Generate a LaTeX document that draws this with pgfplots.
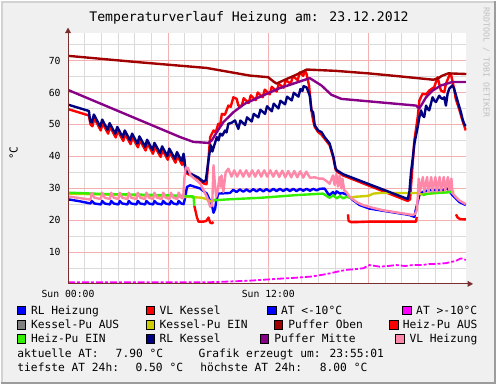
\documentclass[border=0pt]{standalone}
\usepackage{pgfplots}
\pgfplotsset{compat=1.18}
\usepackage{fontspec}
\setmainfont{DejaVu Sans Mono}
\definecolor{bgc}{HTML}{F0F0F0}
\definecolor{brdlight}{HTML}{D2D2D2}
\definecolor{brddark}{HTML}{9C9C9C}
\definecolor{majg}{HTML}{F4B0B0}
\definecolor{ming}{HTML}{DADADA}
\definecolor{axc}{HTML}{7A2E2E}
\definecolor{cblue}{HTML}{0000FF}
\definecolor{cred}{HTML}{FF0000}
\definecolor{cmag}{HTML}{FF00FF}
\definecolor{cgray}{HTML}{808080}
\definecolor{cyel}{HTML}{CCCC00}
\definecolor{cdred}{HTML}{A00000}
\definecolor{cgreen}{HTML}{33F000}
\definecolor{cnavy}{HTML}{000080}
\definecolor{cpurp}{HTML}{880088}
\definecolor{cpink}{HTML}{FF88A8}
\definecolor{wmk}{HTML}{C0C0C0}
\newcommand{\fs}[1]{\fontsize{#1bp}{#1bp}\selectfont}
\begin{document}
\begin{tikzpicture}[x=1bp,y=1bp]
\fill[bgc] (0,0) rectangle (497,385);
\draw[brdlight, line width=2bp] (1,0) -- (1,384) -- (497,384);
\draw[brddark, line width=2bp] (0,1) -- (496,1) -- (496,385);
\begin{axis}[
  at={(67.3bp,101bp)}, anchor=south west, scale only axis,
  width=400bp, height=252bp,
  xmin=0, xmax=23.88, ymin=0, ymax=78.7,
  axis background/.style={fill=white},
  axis line style={draw=none},
  xtick={0,6,12,18}, xticklabels={Sun 00:00,,Sun 12:00,},
  minor xtick={1,2,3,4,5,7,8,9,10,11,13,14,15,16,17,19,20,21,22,23},
  ytick={10,20,30,40,50,60,70},
  minor ytick={5,15,25,35,45,55,65,75},
  grid=both,
  major grid style={color=majg, line width=0.8bp},
  minor grid style={color=ming, line width=0.8bp},
  major tick length=0pt, minor tick length=0pt,
  /pgf/number format/assume math mode=true,
  yticklabel style={font=\fs{9.8}, anchor=east, inner sep=0pt, xshift=-7.3bp},
  xticklabel style={font=\fs{9.8}, anchor=north, inner sep=0pt, yshift=-6bp},
  every axis plot/.append style={line width=2.4bp, line join=round, mark=none},
]
% RL Heizung
\addplot[cblue] coordinates {(0,26.5) (0.7,25.9) (1.35,25.2) (1.42,26.0) (1.58,25.2)
 (1.97,24.9) (2.05,26.0) (2.2,25.2) (2.51,24.9) (2.59,26.0) (2.74,25.2)
 (3.02,24.9) (3.1,26.0) (3.25,25.2) (3.56,24.9) (3.64,26.0) (3.79,25.2)
 (4.1,24.9) (4.18,26.0) (4.33,25.2) (4.62,24.9) (4.7,26.0) (4.85,25.2)
 (5.1,24.9) (5.18,26.0) (5.33,25.2) (5.62,24.9) (5.7,26.0) (5.85,25.2)
 (6.09,24.9) (6.17,26.0) (6.32,25.2) (6.55,24.9) (6.63,26.0) (6.78,25.2)
 (6.93,25.0) (7.03,27.3) (7.13,30.4) (7.32,30.9) (7.92,29.9) (8.32,28.3) (8.62,24.7)
 (8.72,22.3) (8.82,23.6) (8.88,26.0) (9.01,28.3) (9.71,28.5)
 (9.9,29.5) (10.1,28.8) (10.3,29.6) (10.5,28.9) (10.7,29.6) (10.9,28.9) (11.1,29.7)
 (11.3,29.0) (11.5,29.7) (11.7,29.0) (11.9,29.7) (12.1,29.0) (12.3,29.8) (12.5,29.1)
 (12.7,29.8) (12.9,29.1) (13.1,29.8) (13.3,29.1) (13.5,29.8) (13.7,29.1) (13.9,29.8)
 (14.1,29.2) (14.3,29.8) (14.5,29.2) (14.7,29.8) (14.9,29.3) (15.1,29.8) (15.38,29.9)
 (15.58,28.3) (15.68,27.8) (15.88,28.8) (16.0,28.0) (16.1,29.0) (16.3,28.3) (16.45,28.5)
 (16.78,27.8) (17.08,26.25) (17.48,24.7) (18.07,23.6) (19.27,22.6) (20.46,21.6)
 (20.76,21.0) (20.86,23.6) (20.96,25.7) (21.06,27.8) (21.25,28.8) (21.65,29.4)
 (22.45,29.4) (22.75,29.9) (23.04,27.8) (23.44,25.7) (23.84,24.7)};
% VL Kessel
\addplot[cred] coordinates {(0,54.8) (1.25,52.8) (1.35,50.0) (1.46,49.4) (1.58,51.9)
 (1.96,48.1) (2.08,50.3) (2.4,47.1) (2.52,49.2) (2.86,45.9) (2.98,48.0)
 (3.31,44.8) (3.43,46.9) (3.75,43.8) (3.87,45.9) (4.19,42.8) (4.31,45.0)
 (4.65,41.8) (4.77,44.0) (5.09,40.8) (5.21,43.0) (5.55,39.8) (5.67,41.9)
 (5.98,38.9) (6.10,41.2) (6.44,38.0) (6.56,40.1) (6.84,37.3) (6.96,39.5)
 (7.05,35.0) (7.15,34.5) (7.82,33.0) (8.12,31.5) (8.3,31.2) (8.42,39.3) (8.52,46.0)
 (8.72,48.1) (8.85,47.5) (9.01,50.2) (9.12,49.8) (9.22,53.3) (9.4,53.0) (9.61,55.9)
 (9.75,55.5) (9.91,58.5) (10.11,58.0) (10.21,55.9) (10.41,55.8) (10.53,58.2)
 (10.83,56.7) (10.95,59.1) (11.25,57.6) (11.37,60.0) (11.67,58.5) (11.79,60.9)
 (12.09,59.4) (12.21,61.8) (12.51,60.3) (12.63,62.7) (12.93,61.5) (13.05,63.9)
 (13.35,62.7) (13.47,65.1) (13.77,63.9) (13.89,66.3) (14.1,65.2) (14.2,66.8)
 (14.3,65.8) (14.45,62.0) (14.59,54.4) (14.7,51.0) (14.79,49.2) (14.99,47.6)
 (15.19,46.8) (15.38,45.5) (15.68,43.5) (15.9,39.5) (16.04,35.8) (16.12,35.2)
 (16.48,34.0) (20.36,26.0) (20.5,26.5) (20.62,35.0) (20.76,45.0) (20.96,52.3)
 (21.06,57.5) (21.25,59.6) (21.46,59.4) (21.65,60.6) (21.95,61.7) (22.15,64.8)
 (22.25,62.7) (22.35,60.6) (22.55,60.1) (22.65,62.7) (22.85,65.3) (22.95,65.8)
 (23.14,61.2) (23.24,58.0) (23.44,54.9) (23.64,51.25) (23.84,48.1)};
% AT >-10
\addplot[cmag, line width=1.8bp, dash pattern=on 7bp off 2bp on 3bp off 2bp] coordinates {
 (0,0.5) (4,0.5) (8.4,0.5) (9.0,0.6) (10.9,1.0) (11.6,1.25) (12.6,1.6) (13.6,1.9)
 (14.6,2.3) (15.2,2.8) (15.7,3.3) (16.2,3.9) (16.7,4.4) (17.2,4.6) (17.7,4.9)
 (18.07,5.9) (18.67,5.4) (19.2,5.6) (19.67,5.9) (20.2,5.6) (20.66,5.9) (21.2,5.9)
 (21.65,6.2) (22.2,6.3) (22.65,6.5) (23.25,7.2) (23.55,8.0) (23.84,7.5)};
% Kessel-Pu EIN
\addplot[cyel] coordinates {(0,28.3) (3,27.9) (6,27.5) (7.0,27.3) (7.5,27.2) (8.0,27.0)
 (8.3,26.6) (8.5,26.0) (8.62,25.7) (8.75,26.3) (8.9,26.5)};
\addplot[cyel] coordinates {(16.9,27.0) (17.2,27.3) (18.0,27.6) (18.3,28.3) (18.7,28.5)
 (20.9,28.5) (21.2,28.0) (21.5,28.2) (22.5,28.7) (23.15,29.0)};
% Puffer Oben
\addplot[cdred] coordinates {(0,71.5) (4,69.6) (8.3,67.7) (10.9,65.3) (12,64.8) (12.3,63.5)
 (12.5,62.8) (13.0,64.0) (13.7,65.6) (14.3,67.2) (16,66.8) (18,66.0) (20,65.0)
 (21.9,64.0) (22.2,64.5) (22.4,65.2) (22.8,66.0) (23.87,65.8)};
% Heiz-Pu AUS
\addplot[cred] coordinates {(7.57,24.5) (7.72,21.0) (7.82,19.5) (8.1,19.5) (8.28,19.7)
 (8.42,20.8) (8.52,19.2) (8.62,19.0) (8.72,19.4)};
\addplot[cred] coordinates {(16.78,21.8) (16.82,19.7) (17.0,19.3) (18.0,19.5) (20.0,19.5)
 (20.86,19.5) (20.9,21.0)};
\addplot[cred] coordinates {(23.25,21.8) (23.35,20.8) (23.5,20.3) (23.84,20.2)};
% Heiz-Pu EIN
\addplot[cgreen] coordinates {(0,28.6) (2,28.2) (4,28.0) (6,27.8) (7.52,27.4) (7.57,24.5)};
\addplot[cgreen] coordinates {(8.72,26.2) (9.61,26.5) (11.6,27.0) (13.6,27.8) (15.28,28.3)
 (15.58,27.3) (15.68,27.0) (15.9,27.8) (16.1,26.8) (16.3,27.5) (16.5,26.8) (16.7,27.3)
 (16.88,27.0)};
\addplot[cgreen] coordinates {(21.25,27.8) (21.5,28.2) (22.0,28.5) (22.5,28.6) (23.0,28.8)
 (23.1,28.3)};
% RL Kessel
\addplot[cnavy] coordinates {(0,56.2) (1.25,54.2) (1.33,51.0) (1.43,50.6) (1.55,53.1)
 (1.93,49.3) (2.05,51.5) (2.37,48.3) (2.49,50.4) (2.83,47.1) (2.95,49.2)
 (3.28,46.0) (3.4,48.1) (3.72,45.0) (3.84,47.1) (4.16,44.0) (4.28,46.25)
 (4.62,43.0) (4.74,45.2) (5.06,42.0) (5.18,44.2) (5.52,41.0) (5.64,43.1)
 (5.95,40.1) (6.07,42.4) (6.41,39.2) (6.53,41.3) (6.81,38.5) (6.93,40.8)
 (7.03,36.2) (7.13,35.1) (7.82,33.3) (8.12,32.0) (8.26,32.5) (8.42,38.8) (8.55,43.5)
 (8.65,41.5) (8.8,44.0) (8.92,46.0) (9.02,45.0) (9.12,47.1) (9.25,46.5) (9.41,48.1)
 (9.5,47.5) (9.61,50.2) (9.8,50.5) (10.01,51.25) (10.1,50.0) (10.21,48.6)
 (10.33,51.2) (10.61,49.8) (10.73,52.2) (11.01,50.9) (11.13,53.3) (11.41,52.2)
 (11.53,54.6) (11.81,53.3) (11.93,55.7) (12.21,54.1) (12.33,56.5) (12.61,55.0)
 (12.73,57.4) (13.01,56.3) (13.13,58.7) (13.41,57.5) (13.53,59.9) (13.81,58.7)
 (13.93,61.1) (14.05,60.5) (14.12,62.0) (14.3,61.6) (14.49,59.0) (14.59,54.4)
 (14.69,53.8) (14.79,49.7) (14.99,48.1) (15.19,47.6) (15.38,46.0) (15.68,44.0)
 (15.9,40.0) (16.04,36.2) (16.12,35.6) (16.48,34.4) (20.36,26.6) (20.46,28.8)
 (20.56,35.1) (20.66,39.3) (20.76,44.0) (20.96,49.2) (21.06,52.3) (21.16,54.4)
 (21.25,52.8) (21.35,52.3) (21.46,55.9) (21.55,54.9) (21.65,54.4) (21.85,58.5)
 (21.95,57.5) (22.05,57.0) (22.25,59.0) (22.35,58.3) (22.45,58.0) (22.55,58.5)
 (22.65,55.9) (22.75,59.6) (22.85,61.2) (23.04,62.2) (23.14,61.2) (23.34,57.5)
 (23.55,53.8) (23.64,51.8) (23.74,50.2) (23.84,49.5)};
% Puffer Mitte
\addplot[cpurp] coordinates {(0,60.8) (6.73,46.0) (7.52,44.5) (8.42,44.2) (8.62,45.0)
 (8.92,47.6) (9.31,50.7) (9.91,53.8) (10.6,56.5) (12.6,61.2) (14.49,64.5) (15.19,62.2)
 (15.78,59.3) (16.38,58.0) (20.86,55.9) (21.06,55.0) (21.46,58.5) (21.85,60.6)
 (22.35,62.2) (23.04,63.3) (23.85,63.3)};
% VL Heizung
\addplot[cpink] coordinates {(0,27.4) (0.7,26.9) (1.35,26.4) (1.42,28.5) (1.58,27.0)
 (1.97,26.6) (2.05,28.6) (2.2,27.0) (2.51,26.6) (2.59,28.6) (2.74,27.0)
 (3.02,26.6) (3.1,28.6) (3.25,27.0) (3.56,26.6) (3.64,28.6) (3.79,27.0)
 (4.1,26.6) (4.18,28.6) (4.33,27.0) (4.62,26.6) (4.7,28.6) (4.85,27.0)
 (5.1,26.6) (5.18,28.6) (5.33,27.0) (5.62,26.6) (5.7,28.6) (5.85,27.0)
 (6.09,26.6) (6.17,28.6) (6.32,27.0) (6.55,26.6) (6.63,28.6) (6.78,27.0)
 (6.9,26.8) (6.98,33.5) (7.06,36.5) (7.2,36.3) (7.35,34.0) (7.92,31.5) (8.32,27.3)
 (8.52,24.2) (8.64,24.6) (8.72,37.2) (8.8,31.5) (8.88,27.3) (8.98,29.5) (9.08,33.5)
 (9.15,30.5) (9.2,34.0) (9.31,28.8) (9.45,35.0) (9.61,36.1)
 (9.8,33.6) (9.96,35.6) (10.14,33.6) (10.32,35.6) (10.5,33.6) (10.68,35.6)
 (10.86,33.6) (11.04,35.6) (11.22,33.6) (11.4,35.6) (11.58,33.6) (11.76,35.6)
 (11.94,33.6) (12.12,35.6) (12.3,33.6) (12.48,35.5) (12.66,33.5) (12.84,35.5)
 (13.02,33.4) (13.2,35.4) (13.38,33.4) (13.56,35.4) (13.74,33.4) (13.92,35.3)
 (14.1,33.3) (14.28,35.2) (14.5,33.3) (14.8,33.4) (15.05,33.0) (15.28,33.0)
 (15.5,32.2) (15.68,31.4) (15.88,34.0) (15.98,31.0) (16.08,34.5) (16.18,30.5)
 (16.28,34.0) (16.38,29.9) (16.45,33.0) (16.55,29.4) (16.68,28.8) (16.88,27.3)
 (17.28,25.7) (17.67,24.7) (18.3,23.8) (18.87,23.1) (19.8,22.3) (20.66,21.6)
 (20.8,21.9) (20.9,23.0) (20.96,27.0) (21.02,33.0) (21.1,29.0) (21.27,33.5)
 (21.35,28.8) (21.52,33.5) (21.6,28.8) (21.77,33.5) (21.85,29.0) (22.02,33.5)
 (22.1,29.0) (22.27,33.5) (22.35,29.0) (22.52,33.5) (22.6,29.2) (22.77,33.5)
 (22.85,29.4) (22.98,33.0) (23.04,28.5) (23.2,27.5) (23.44,26.2) (23.84,25.0)};
\end{axis}
% axes with arrows
\draw[axc, line width=1bp] (67.3,101) -- (469,101);
\fill[axc] (474,101) -- (468.5,104) -- (468.5,98) -- cycle;
\draw[axc, line width=1bp] (67.3,101) -- (67.3,353);
\fill[axc] (67.3,358.3) -- (64.3,352.8) -- (70.3,352.8) -- cycle;
% title and labels
\node[anchor=base, inner sep=0pt, font=\fs{13.2}] at (249,364.3) {Temperaturverlauf Heizung am: 23.12.2012};
\node[rotate=90, inner sep=0pt, font=\fs{11}] at (12.7,232) {°C};
\node[rotate=-90, inner sep=0pt, font=\fs{8.3}, text=wmk] at (487.3,323) {RRDTOOL / TOBI OETIKER};
% legend
\newcommand{\lbox}[3]{\filldraw[fill=#3, draw=black, line width=0.6bp] (#1,#2) rectangle ++(8.6,8.4);}
\newcommand{\ltxt}[3]{\node[anchor=base west, inner sep=0pt, font=\fs{11.3}] at (#1,#2) {#3};}
\lbox{16.3}{70}{cblue}\ltxt{30}{70}{RL Heizung}
\lbox{145.7}{70}{cred}\ltxt{159}{70}{VL Kessel}
\lbox{267.7}{70}{cblue}\ltxt{281}{70}{AT <-10°C}
\lbox{403.3}{70}{cmag}\ltxt{416.7}{70}{AT >-10°C}
\lbox{16.3}{55.7}{cgray}\ltxt{30}{55.7}{Kessel-Pu AUS}
\lbox{145.7}{55.7}{cyel}\ltxt{159}{55.7}{Kessel-Pu EIN}
\lbox{274.3}{55.7}{cdred}\ltxt{288.3}{55.7}{Puffer Oben}
\lbox{390}{55.7}{cred}\ltxt{403.3}{55.7}{Heiz-Pu AUS}
\lbox{16.3}{41.7}{cgreen}\ltxt{30}{41.7}{Heiz-Pu EIN}
\lbox{145.7}{41.7}{cnavy}\ltxt{159}{41.7}{RL Kessel}
\lbox{260}{41.7}{cpurp}\ltxt{274.3}{41.7}{Puffer Mitte}
\lbox{396}{41.7}{cpink}\ltxt{410}{41.7}{VL Heizung}
\ltxt{16.3}{27.3}{aktuelle AT:}
\ltxt{115}{27.3}{7.90 °C}
\ltxt{198.3}{27.3}{Grafik erzeugt um: 23:55:01}
\ltxt{16.3}{13.3}{tiefste AT 24h:}
\ltxt{135}{13.3}{0.50 °C}
\ltxt{200}{13.3}{höchste AT 24h:}
\ltxt{320}{13.3}{8.00 °C}
\end{tikzpicture}
\end{document}
